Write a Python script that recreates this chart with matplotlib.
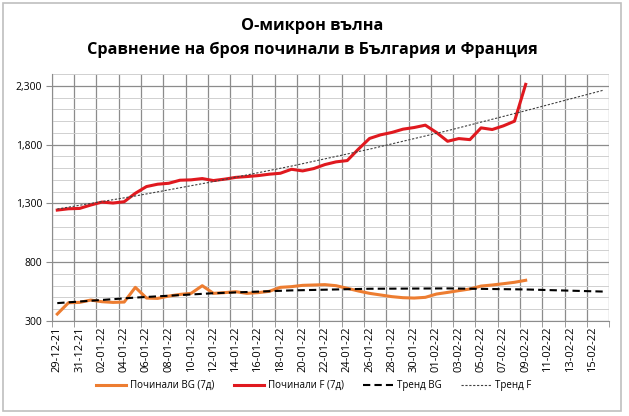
import matplotlib
matplotlib.use("Agg")
import matplotlib.pyplot as plt
from matplotlib.ticker import FixedLocator, MultipleLocator, FuncFormatter, NullFormatter
import numpy as np

plt.rcParams["font.family"] = ["Open Sans", "DejaVu Sans"]

# daily categories 29-12-21 .. 16-02-22 (50 days); labels every 2 days
tick_labels = ["29-12-21", "31-12-21", "02-01-22", "04-01-22", "06-01-22", "08-01-22",
               "10-01-22", "12-01-22", "14-01-22", "16-01-22", "18-01-22", "20-01-22",
               "22-01-22", "24-01-22", "26-01-22", "28-01-22", "30-01-22", "01-02-22",
               "03-02-22", "05-02-22", "07-02-22", "09-02-22", "11-02-22", "13-02-22",
               "15-02-22"]
n_days = 50

# deaths, 7-day (29-12-21 .. 09-02-22)
deaths_bg = [359, 455, 458, 478, 464, 458, 461, 586, 495, 492, 512, 526, 535, 600,
             535, 541, 549, 535, 541, 552, 586, 592, 603, 606, 609, 600, 578, 555,
             535, 521, 507, 498, 495, 501, 529, 543, 558, 572, 597, 606, 617, 629, 646]
deaths_f = [1243, 1254, 1257, 1286, 1311, 1303, 1314, 1386, 1443, 1463, 1471, 1497,
            1500, 1511, 1494, 1506, 1521, 1528, 1536, 1548, 1556, 1590, 1576, 1596,
            1630, 1653, 1664, 1761, 1852, 1883, 1903, 1931, 1945, 1965, 1903, 1828,
            1851, 1842, 1942, 1928, 1959, 1999, 2312]

# trend lines, read weekly
trend_days = [0, 7, 14, 21, 28, 35, 42, 49]
trend_bg = [452, 499, 536, 560, 574, 577, 568, 550]
trend_f = [1252, 1363, 1485, 1617, 1761, 1918, 2088, 2263]

fig = plt.figure(figsize=(6.29, 4.16), dpi=100)
ax = fig.add_axes([0.0822, 0.2284, 0.8865, 0.5937])

c_bg = "#ed7d31"; c_f = "#e0191f"
ax.plot(np.arange(len(deaths_bg)), deaths_bg, color=c_bg, lw=2.2, label="Починали BG (7д)", zorder=4)
ax.plot(np.arange(len(deaths_f)), deaths_f, color=c_f, lw=2.2, label="Починали F (7д)", zorder=4)
ax.plot(trend_days, trend_bg, color="black", lw=1.5, ls=(0, (3.5, 2)), label="Тренд BG", zorder=5)
ax.plot(trend_days, trend_f, color="#404040", lw=0.8, ls=(0, (2, 1.5)), label="Тренд F", zorder=5)

ax.set_xlim(-0.5, n_days - 0.5)
ax.set_ylim(300, 2400)
ax.yaxis.set_major_locator(FixedLocator([300, 800, 1300, 1800, 2300]))
ax.yaxis.set_minor_locator(MultipleLocator(100))
ax.yaxis.set_major_formatter(FuncFormatter(lambda v, p: f"{int(v):,}"))
ax.yaxis.set_minor_formatter(NullFormatter())

# labels on day centres (major), grid + tick marks on 2-day boundaries (minor)
ax.xaxis.set_major_locator(FixedLocator(np.arange(0, n_days, 2)))
ax.xaxis.set_major_formatter(FuncFormatter(lambda v, p: tick_labels[int(round(v)) // 2]))
ax.xaxis.set_minor_locator(FixedLocator(np.arange(-0.5, n_days, 2)))
ax.xaxis.set_minor_formatter(NullFormatter())

ax.xaxis.grid(True, which="minor", color="#8c8c8c", lw=0.9)
ax.xaxis.grid(False, which="major")
ax.yaxis.grid(True, which="major", color="#8c8c8c", lw=0.9)
ax.yaxis.grid(True, which="minor", color="#d0d0d0", lw=0.7)
ax.set_axisbelow(True)
ax.tick_params(axis="y", which="major", length=4, color="#8c8c8c", labelsize=7.5, pad=3)
ax.tick_params(axis="y", which="minor", length=0)
ax.tick_params(axis="x", which="minor", length=4, color="#8c8c8c")
ax.tick_params(axis="x", which="major", length=0, labelsize=8, rotation=90, pad=4)
for s in ["top", "right"]:
    ax.spines[s].set_visible(False)
for s in ["left", "bottom"]:
    ax.spines[s].set_color("#8c8c8c")

fig.text(0.497, 0.929, "О-микрон вълна", ha="center", va="baseline", fontsize=11.7, fontweight="bold")
fig.text(0.497, 0.871, "Сравнение на броя починали в България и Франция", ha="center",
         va="baseline", fontsize=11.7, fontweight="bold")

fig.legend(loc="center", bbox_to_anchor=(0.499, 0.073), ncol=4, frameon=False, fontsize=7,
           handlelength=3.1, columnspacing=2.0, handletextpad=0.4)

fig.patches.append(plt.Rectangle((0.004, 0.013), 0.983, 0.98, transform=fig.transFigure,
                                 fill=False, edgecolor="#bfbfbf", lw=1.2))
fig.savefig("out.png", dpi=100)
